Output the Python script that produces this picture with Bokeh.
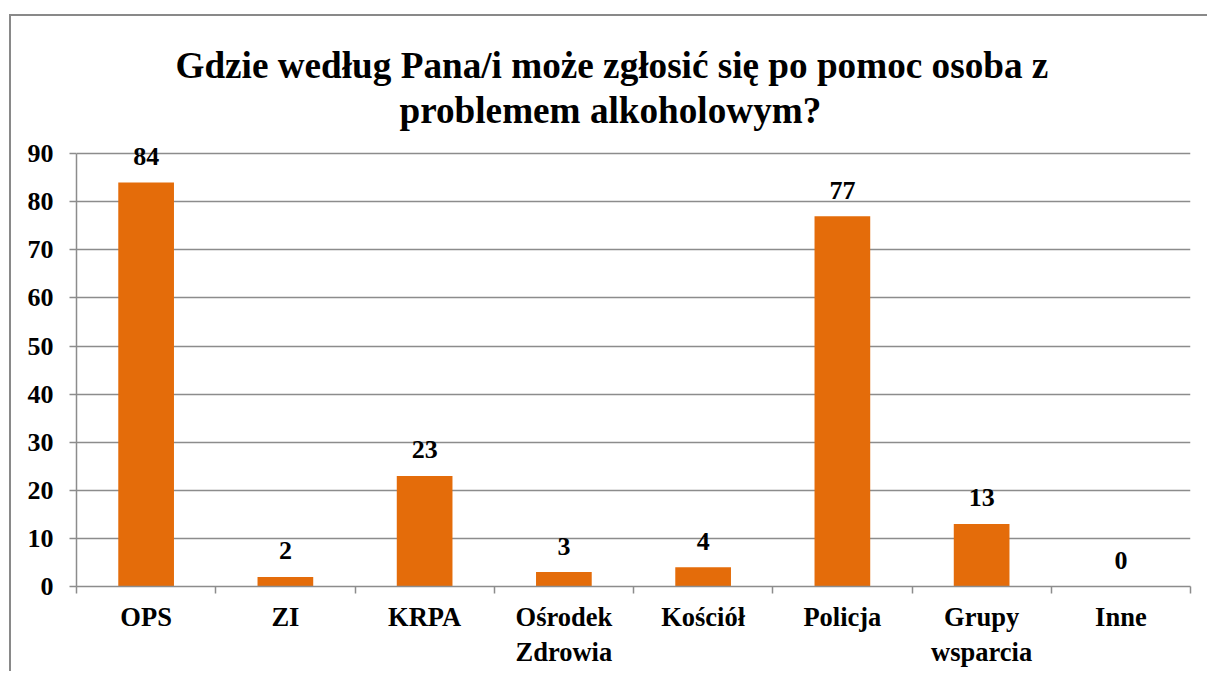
from bokeh.plotting import figure
from bokeh.models import ColumnDataSource, Range1d, FixedTicker, LinearAxis, LabelSet, Title
from bokeh.embed import file_html
from bokeh.resources import INLINE

title_line1 = "Gdzie według Pana/i może zgłosić się po pomoc osoba z"
title_line2 = "problemem alkoholowym?"
categories = ["OPS", "ZI", "KRPA", "Ośrodek\nZdrowia", "Kościół", "Policja", "Grupy\nwsparcia", "Inne"]
values = [84, 2, 23, 3, 4, 77, 13, 0]
y_ticks = [0, 10, 20, 30, 40, 50, 60, 70, 80, 90]

FONT = "Liberation Serif"
GRID = "#8c8c8c"
FRAME = "#898989"
BAR = "#E46C0A"

n = len(categories)
centers = [i + 0.5 for i in range(n)]
edges = list(range(n + 1))

src = ColumnDataSource(dict(x=centers, top=values, label=[str(v) for v in values]))

p = figure(width=1207, height=671, x_range=Range1d(0, n), y_range=Range1d(0, 94),
           output_backend="svg", toolbar_location=None, x_axis_type=None, title=None,
           min_border_left=76, min_border_right=17, min_border_top=134, min_border_bottom=85)
p.outline_line_color = None
p.border_fill_color = None
p.styles = {
    "background-color": "white",
    "background-image": f"linear-gradient({FRAME}, {FRAME}), linear-gradient({FRAME}, {FRAME})",
    "background-position": "9px 14px, 9px 14px",
    "background-size": "2px 100%, 100% 2px",
    "background-repeat": "no-repeat",
}

t2 = Title(text=title_line2, align="left", offset=323, text_font=FONT, text_font_style="bold",
           text_font_size="37.2px", text_color="black", standoff=8)
t1 = Title(text=title_line1, align="left", offset=99, text_font=FONT, text_font_style="bold",
           text_font_size="37.2px", text_color="black", standoff=-5)
p.add_layout(t2, "above")
p.add_layout(t1, "above")

p.vbar(x="x", top="top", width=0.4, source=src, fill_color=BAR, line_color=None)

labels = LabelSet(x="x", y="top", text="label", source=src, text_align="center",
                  text_baseline="alphabetic", y_offset=17.5, text_font=FONT,
                  text_font_style="bold", text_font_size="26px", text_color="black")
p.add_layout(labels)

xaxis = LinearAxis(ticker=FixedTicker(ticks=centers, minor_ticks=edges))
xaxis.major_label_overrides = {c: lab for c, lab in zip(centers, categories)}
xaxis.major_tick_out = 0
xaxis.major_tick_in = 0
xaxis.minor_tick_out = 7
xaxis.minor_tick_in = 0
xaxis.minor_tick_line_color = GRID
xaxis.minor_tick_line_width = 1.5
xaxis.axis_line_color = GRID
xaxis.axis_line_width = 1.5
xaxis.major_label_text_font = FONT
xaxis.major_label_text_font_style = "bold"
xaxis.major_label_text_font_size = "26.5px"
xaxis.major_label_text_line_height = 1.17
xaxis.major_label_text_color = "black"
xaxis.major_label_standoff = 8
p.add_layout(xaxis, "below")

p.yaxis.ticker = FixedTicker(ticks=y_ticks)
p.yaxis.bounds = (0, 90)
p.yaxis.minor_tick_line_color = None
p.yaxis.major_tick_out = 7
p.yaxis.major_tick_in = 0
p.yaxis.major_tick_line_color = GRID
p.yaxis.major_tick_line_width = 1.5
p.yaxis.axis_line_color = GRID
p.yaxis.axis_line_width = 1.5
p.yaxis.major_label_text_font = FONT
p.yaxis.major_label_text_font_style = "bold"
p.yaxis.major_label_text_font_size = "26px"
p.yaxis.major_label_text_color = "black"
p.yaxis.major_label_standoff = 16

p.ygrid.ticker = FixedTicker(ticks=y_ticks)
p.ygrid.grid_line_color = GRID
p.ygrid.grid_line_width = 1.5

open("out.html", "w").write(file_html(p, INLINE))
